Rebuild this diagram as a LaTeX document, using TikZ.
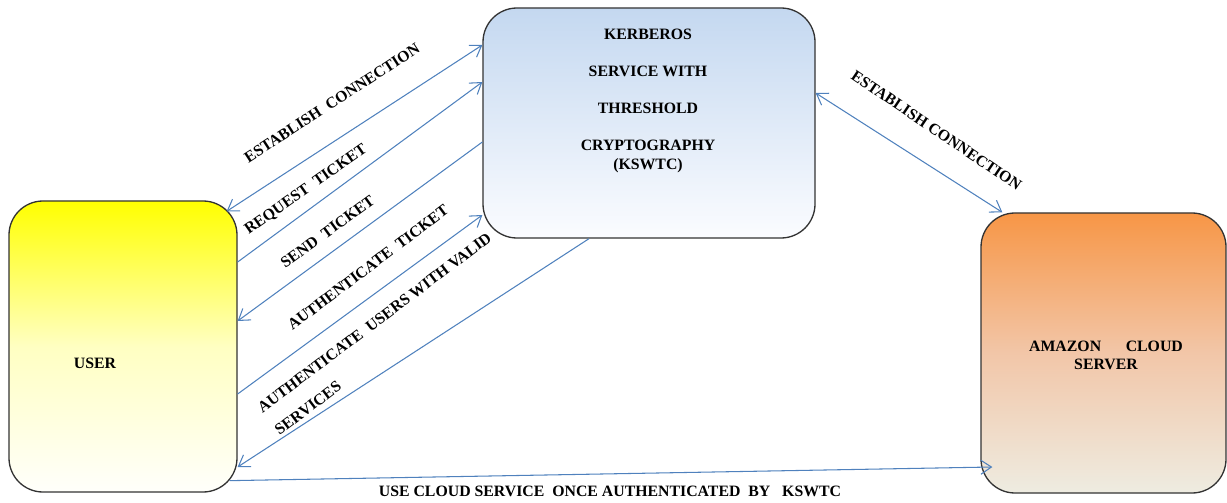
\documentclass[tikz,border=0pt]{standalone}
\usepackage{fontspec}
\setmainfont{Liberation Serif}
\usepackage{tikz}
\usetikzlibrary{arrows.meta}
\definecolor{arrowblue}{HTML}{4F81BD}
\definecolor{userTop}{HTML}{FFFF00}
\definecolor{userMid}{HTML}{FFFFC2}
\definecolor{userBot}{HTML}{FFFFFB}
\definecolor{kerbTop}{HTML}{C4D8F0}
\definecolor{kerbBot}{HTML}{FBFCFF}
\definecolor{amzTop}{HTML}{F79646}
\definecolor{amzMid}{HTML}{F2C6A8}
\definecolor{amzBot}{HTML}{EEECE1}
\tikzstyle{box} = [draw=black!80, line width=0.75pt, rounded corners=0.68cm, inner sep=0pt]
\tikzstyle{lbl} = [font=\fontsize{9}{10.5}\selectfont\bfseries, inner sep=0pt, align=center]
\tikzset{
  line/.style ={draw=arrowblue, line width=0.6pt, -{Straight Barb[length=6pt,width=8pt]}},
  both/.style ={line, {Straight Barb[length=6pt,width=8pt]}-{Straight Barb[length=6pt,width=8pt]}}
}

\begin{document}
\begin{tikzpicture}
	\useasboundingbox (0,0) rectangle (24.54,10.04);
	% boxes
	\node[box, minimum width=4.56cm, minimum height=5.82cm, top color=userTop, bottom color=userBot, middle color=userMid] (user) at (2.46,3.11) {};
	\node[box, minimum width=6.64cm, minimum height=4.6cm, top color=kerbTop, bottom color=kerbBot] (kswtc) at (12.98,7.58) {};
	\node[box, minimum width=4.9cm, minimum height=5.6cm, top color=amzTop, bottom color=amzBot, middle color=amzMid] (amazon) at (22.07,2.98) {};
	\node[lbl] (userText) at (1.9,2.78) {USER};
	\node[lbl] (kswtcText) at (12.96,8.02) {KERBEROS\\[10.5pt] SERVICE WITH\\[10.5pt] THRESHOLD\\[10.5pt] CRYPTOGRAPHY\\ (KSWTC)};
	\node[lbl, font=\fontsize{9}{10.2}\selectfont\bfseries] (amazonText) at (22.12,2.94) {AMAZON\hspace{14pt}CLOUD\\ SERVER};
	% user <-> kswtc
	\draw[both] ([xshift=-0.22cm,yshift=-0.22cm]user.north east) -- ([yshift=1.56cm]kswtc.west);
	\draw[line] ([yshift=1.69cm]user.east) -- ([yshift=0.82cm]kswtc.west);
	\draw[line] ([yshift=-0.38cm]kswtc.west) -- ([yshift=0.51cm]user.east);
	\draw[line] ([yshift=-0.95cm]user.east) -- ([yshift=-1.84cm]kswtc.west);
	\draw[line] ([xshift=-1.2cm]kswtc.south) -- ([yshift=-2.41cm]user.east);
	% kswtc <-> amazon, user -> amazon
	\draw[both] ([yshift=0.6cm]kswtc.east) -- ([xshift=0.44cm]amazon.north west);
	\draw[line] ([xshift=-0.16cm,yshift=0.24cm]user.south east) -- ([xshift=0.24cm,yshift=-2.28cm]amazon.west);
	% labels
	\node[lbl, rotate=33] (lblEstablish) at (6.64,7.98) {ESTABLISH~ CONNECTION};
	\node[lbl, rotate=35] (lblRequest) at (6.12,6.24) {REQUEST~ TICKET};
	\node[lbl, rotate=36] (lblSend) at (6.55,5.41) {SEND~ TICKET};
	\node[lbl, rotate=37] (lblAuthTicket) at (7.36,4.69) {AUTHENTICATE~ TICKET};
	\node[lbl, rotate=37, align=left] (lblAuthUsers) at (7.66,3.36) {AUTHENTICATE~ USERS WITH VALID\\[5.5pt] SERVICES};
	\node[lbl, rotate=-34] (lblEstablishCloud) at (18.73,7.43) {ESTABLISH CONNECTION};
	\node[lbl] (lblUse) at (12.2,0.22) {USE CLOUD SERVICE~ ONCE AUTHENTICATED~ BY~~ KSWTC};
\end{tikzpicture}
\end{document}
